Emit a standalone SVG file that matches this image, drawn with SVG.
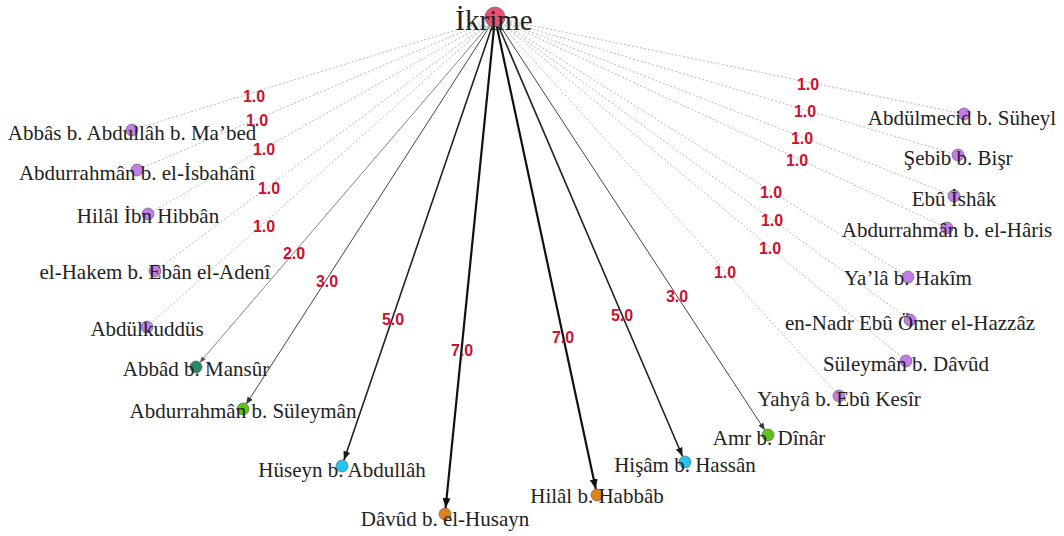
<svg xmlns="http://www.w3.org/2000/svg" width="1064" height="536" viewBox="0 0 1064 536">
<style>
.bg{fill:#ffffff}
.d{stroke:#9a9a9a;stroke-width:0.7;stroke-dasharray:2,2;fill:none}
.w2{stroke:#666;stroke-width:0.8;fill:none}
.w3{stroke:#444;stroke-width:1;fill:none}
.w5{stroke:#222;stroke-width:1.6;fill:none}
.w7{stroke:#111;stroke-width:2.2;fill:none}
.el{font-family:"Liberation Sans",Arial,sans-serif;font-weight:bold;font-size:16px;fill:#cc1030;text-anchor:middle}
.nl{font-family:"Liberation Serif","Times New Roman",serif;font-size:21px;fill:#222;text-anchor:middle}
.n{stroke:#555;stroke-width:0.6}
.p{fill:#c27de8}
.t{fill:#2a8a68}
.g{fill:#5cc41a}
.c{fill:#22c4f0}
.o{fill:#e0821a}
</style>
<defs>
<marker id="a2" markerUnits="userSpaceOnUse" markerWidth="6" markerHeight="5" refX="6" refY="2.5" orient="auto"><path d="M0,0 L6,2.5 L0,5 z" fill="#555"/></marker>
<marker id="a3" markerUnits="userSpaceOnUse" markerWidth="7" markerHeight="6" refX="7" refY="3" orient="auto"><path d="M0,0 L7,3 L0,6 z" fill="#333"/></marker>
<marker id="a5" markerUnits="userSpaceOnUse" markerWidth="9" markerHeight="7" refX="9" refY="3.5" orient="auto"><path d="M0,0 L9,3.5 L0,7 z" fill="#1a1a1a"/></marker>
<marker id="a7" markerUnits="userSpaceOnUse" markerWidth="10" markerHeight="8" refX="10" refY="4" orient="auto"><path d="M0,0 L10,4 L0,8 z" fill="#111"/></marker>
</defs>
<rect class="bg" x="0" y="0" width="1064" height="536"/>
<g id="connectors">
<line class="d" x1="495" y1="18" x2="132" y2="130"/>
<line class="d" x1="495" y1="18" x2="137" y2="170"/>
<line class="d" x1="495" y1="18" x2="148" y2="214"/>
<line class="d" x1="495" y1="18" x2="155" y2="271"/>
<line class="d" x1="495" y1="18" x2="147" y2="327"/>
<line class="w2" x1="495" y1="18" x2="199.9" y2="362.4" marker-end="url(#a2)"/>
<line class="w3" x1="495" y1="18" x2="246.3" y2="404" marker-end="url(#a3)"/>
<line class="w5" x1="495" y1="18" x2="343.9" y2="460.3" marker-end="url(#a5)"/>
<line class="w7" x1="495" y1="18" x2="445.6" y2="508" marker-end="url(#a7)"/>
<line class="w7" x1="495" y1="18" x2="595.8" y2="489.1" marker-end="url(#a7)"/>
<line class="w5" x1="495" y1="18" x2="682.6" y2="456.5" marker-end="url(#a5)"/>
<line class="w3" x1="495" y1="18" x2="764.7" y2="430" marker-end="url(#a3)"/>
<line class="d" x1="495" y1="18" x2="839" y2="396"/>
<line class="d" x1="495" y1="18" x2="906" y2="361"/>
<line class="d" x1="495" y1="18" x2="910" y2="320"/>
<line class="d" x1="495" y1="18" x2="908" y2="277"/>
<line class="d" x1="495" y1="18" x2="947" y2="228"/>
<line class="d" x1="495" y1="18" x2="954" y2="196"/>
<line class="d" x1="495" y1="18" x2="958" y2="155"/>
<line class="d" x1="495" y1="18" x2="964" y2="114"/>
<text class="el" x="254" y="101.5">1.0</text>
<text class="el" x="257" y="126">1.0</text>
<text class="el" x="264" y="155">1.0</text>
<text class="el" x="269" y="193.5">1.0</text>
<text class="el" x="264" y="231.5">1.0</text>
<text class="el" x="294" y="258.5">2.0</text>
<text class="el" x="327" y="287">3.0</text>
<text class="el" x="393" y="325">5.0</text>
<text class="el" x="462" y="356">7.0</text>
<text class="el" x="563" y="343">7.0</text>
<text class="el" x="622" y="321">5.0</text>
<text class="el" x="677" y="302">3.0</text>
<text class="el" x="725" y="277.5">1.0</text>
<text class="el" x="770" y="253.5">1.0</text>
<text class="el" x="772" y="225.5">1.0</text>
<text class="el" x="771" y="197.5">1.0</text>
<text class="el" x="797" y="165.5">1.0</text>
<text class="el" x="802" y="143.5">1.0</text>
<text class="el" x="805" y="116.5">1.0</text>
<text class="el" x="808" y="89.5">1.0</text>
</g>
<g id="n-ikrime"><circle class="n" cx="495" cy="17" r="10" fill="#e8506e"/><text x="494" y="30" font-family="'Liberation Serif','Times New Roman',serif" font-size="29" fill="#222" text-anchor="middle">İkrime</text></g>
<g id="n1"><circle class="n p" cx="132" cy="130" r="6"/><text class="nl" x="132" y="140">Abbâs b. Abdullâh b. Ma’bed</text></g>
<g id="n2"><circle class="n p" cx="137" cy="170" r="6"/><text class="nl" x="137" y="180">Abdurrahmân b. el-İsbahânî</text></g>
<g id="n3"><circle class="n p" cx="148" cy="214" r="6"/><text class="nl" x="148" y="223">Hilâl İbn Hibbân</text></g>
<g id="n4"><circle class="n p" cx="155" cy="271" r="6"/><text class="nl" x="155" y="279">el-Hakem b. Ebân el-Adenî</text></g>
<g id="n5"><circle class="n p" cx="147" cy="327" r="6"/><text class="nl" x="147" y="336">Abdülkuddüs</text></g>
<g id="n6"><circle class="n t" cx="196" cy="367" r="6"/><text class="nl" x="196" y="376">Abbâd b. Mansûr</text></g>
<g id="n7"><circle class="n g" cx="243" cy="409" r="6"/><text class="nl" x="243" y="418">Abdurrahmân b. Süleymân</text></g>
<g id="n8"><circle class="n c" cx="342" cy="466" r="6"/><text class="nl" x="342" y="477">Hüseyn b. Abdullâh</text></g>
<g id="n9"><circle class="n o" cx="445" cy="514" r="6"/><text class="nl" x="445" y="526">Dâvûd b. el-Husayn</text></g>
<g id="n10"><circle class="n o" cx="597" cy="495" r="6"/><text class="nl" x="597" y="503">Hilâl b. Habbâb</text></g>
<g id="n11"><circle class="n c" cx="685" cy="462" r="6"/><text class="nl" x="685" y="472">Hişâm b. Hassân</text></g>
<g id="n12"><circle class="n g" cx="768" cy="435" r="6"/><text class="nl" x="769" y="445">Amr b. Dînâr</text></g>
<g id="n13"><circle class="n p" cx="839" cy="396" r="6"/><text class="nl" x="839" y="406">Yahyâ b. Ebû Kesîr</text></g>
<g id="n14"><circle class="n p" cx="906" cy="361" r="6"/><text class="nl" x="906" y="371">Süleymân b. Dâvûd</text></g>
<g id="n15"><circle class="n p" cx="910" cy="320" r="6"/><text class="nl" x="910" y="330">en-Nadr Ebû Ömer el-Hazzâz</text></g>
<g id="n16"><circle class="n p" cx="908" cy="277" r="6"/><text class="nl" x="908" y="285">Ya’lâ b. Hakîm</text></g>
<g id="n17"><circle class="n p" cx="947" cy="228" r="6"/><text class="nl" x="947" y="237">Abdurrahmân b. el-Hâris</text></g>
<g id="n18"><circle class="n p" cx="954" cy="196" r="6"/><text class="nl" x="954" y="206">Ebû İshâk</text></g>
<g id="n19"><circle class="n p" cx="958" cy="155" r="6"/><text class="nl" x="958" y="165">Şebib b. Bişr</text></g>
<g id="n20"><circle class="n p" cx="964" cy="114" r="6"/><text class="nl" x="962" y="125">Abdülmecid b. Süheyl</text></g>
</svg>
